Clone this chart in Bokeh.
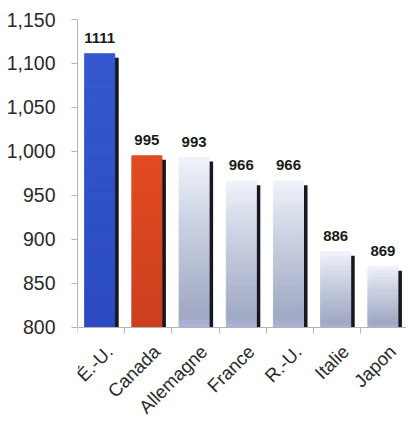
import numpy as np
from bokeh.plotting import figure
from bokeh.models import Range1d, FixedTicker, NumeralTickFormatter, ColumnDataSource
from bokeh.core.properties import value
from bokeh.embed import file_html
from bokeh.resources import INLINE

categories = ["É.-U.", "Canada", "Allemagne", "France", "R.-U.", "Italie", "Japon"]
values = [1111, 995, 993, 966, 966, 886, 869]
y_ticks = [800, 850, 900, 950, 1000, 1050, 1100, 1150]
bar_styles = ["blue", "red", "grey", "grey", "grey", "grey", "grey"]

Y0, Y1 = 800, 1150
# layout (pixels): value axis spans 307 px; room under the baseline for labels
AXIS_PX, BELOW_PX = 307, 90
y_start = Y0 - BELOW_PX * (Y1 - Y0) / AXIS_PX

p = figure(width=406, height=417, output_backend="svg", toolbar_location=None,
           x_range=Range1d(0, 6.97), y_range=Range1d(y_start, Y1),
           min_border_left=77, min_border_right=0, min_border_top=19, min_border_bottom=0)
p.outline_line_color = None
p.grid.visible = False
p.background_fill_color = "white"

x_pos = np.arange(len(categories))
bar_c = x_pos + 0.47
bar_w = 0.636
dx = 0.085
dy = 4.6

# shadows
p.vbar(x=bar_c + dx, width=bar_w, bottom=Y0, top=np.array(values) - dy,
       fill_color="#16171f", line_color=None)

# gradient bars built from slices
N = 40
xs, bots, tops, cols = [], [], [], []
def mix(stops, t):
    for (p0, c0), (p1, c1) in zip(stops[:-1], stops[1:]):
        if t <= p1:
            u = (t - p0) / (p1 - p0)
            return "#%02x%02x%02x" % tuple(int(round(a + (b - a) * u)) for a, b in zip(c0, c1))
    return "#%02x%02x%02x" % stops[-1][1]
palettes = {
    "blue": [(0, (0x35, 0x57, 0xcf)), (1, (0x2c, 0x4b, 0xc2))],
    "red": [(0, (0xe2, 0x4b, 0x22)), (1, (0xcc, 0x3f, 0x1e))],
    "grey": [(0, (0xf0, 0xf3, 0xfa)), (0.35, (0xcd, 0xd4, 0xe4)), (0.93, (0xa0, 0xa9, 0xc3)),
             (1, (0xac, 0xb5, 0xdc))],
}
for i, v in enumerate(values):
    edges = np.linspace(Y0, v, N + 1)
    for k in range(N):
        t = 1 - (k + 0.5) / N
        xs.append(bar_c[i]); bots.append(edges[k]); tops.append(edges[k + 1])
        cols.append(mix(palettes[bar_styles[i]], t))
src = ColumnDataSource(dict(x=xs, bottom=bots, top=tops, color=cols))
p.vbar(x="x", width=bar_w, bottom="bottom", top="top", fill_color="color",
       line_color="color", line_width=1, source=src)

# value labels
p.text(x=bar_c, y=values, text=[str(v) for v in values], text_align="center",
       text_baseline="alphabetic", y_offset=-16, text_font=value("Liberation Sans"),
       text_font_style="bold", text_font_size="15px", text_color="#1a1a1a")

# y axis (line limited to the value range)
ya = p.yaxis[0]
ya.bounds = (Y0, Y1)
ya.ticker = FixedTicker(ticks=y_ticks)
ya.formatter = NumeralTickFormatter(format="0,0")
ya.axis_line_color = "#b4b4b4"
ya.major_tick_line_color = "#b4b4b4"
ya.major_tick_out = 6
ya.major_tick_in = 0
ya.minor_tick_line_color = None
ya.major_label_standoff = 16
ya.major_label_text_font = "Liberation Sans"
ya.major_label_text_font_size = "19.5px"
ya.major_label_text_color = "#2a2a2a"

# x axis pinned at the baseline value; minor ticks at category boundaries
xa = p.xaxis[0]
xa.fixed_location = Y0
label_pos = [float(x + 0.68) for x in x_pos]
xa.ticker = FixedTicker(ticks=label_pos, minor_ticks=list(range(len(categories) + 1)))
xa.major_label_overrides = {lp: c for lp, c in zip(label_pos, categories)}
xa.major_label_orientation = np.pi / 4
xa.axis_line_color = "#b4b4b4"
xa.major_tick_line_color = None
xa.major_tick_out = 6
xa.major_tick_in = 0
xa.minor_tick_line_color = "#b4b4b4"
xa.minor_tick_out = 6
xa.minor_tick_in = 0
xa.major_label_standoff = 15
xa.major_label_text_font = "Liberation Sans"
xa.major_label_text_font_size = "18.5px"
xa.major_label_text_color = "#2a2a2a"

open("out.html", "w").write(file_html(p, INLINE))
